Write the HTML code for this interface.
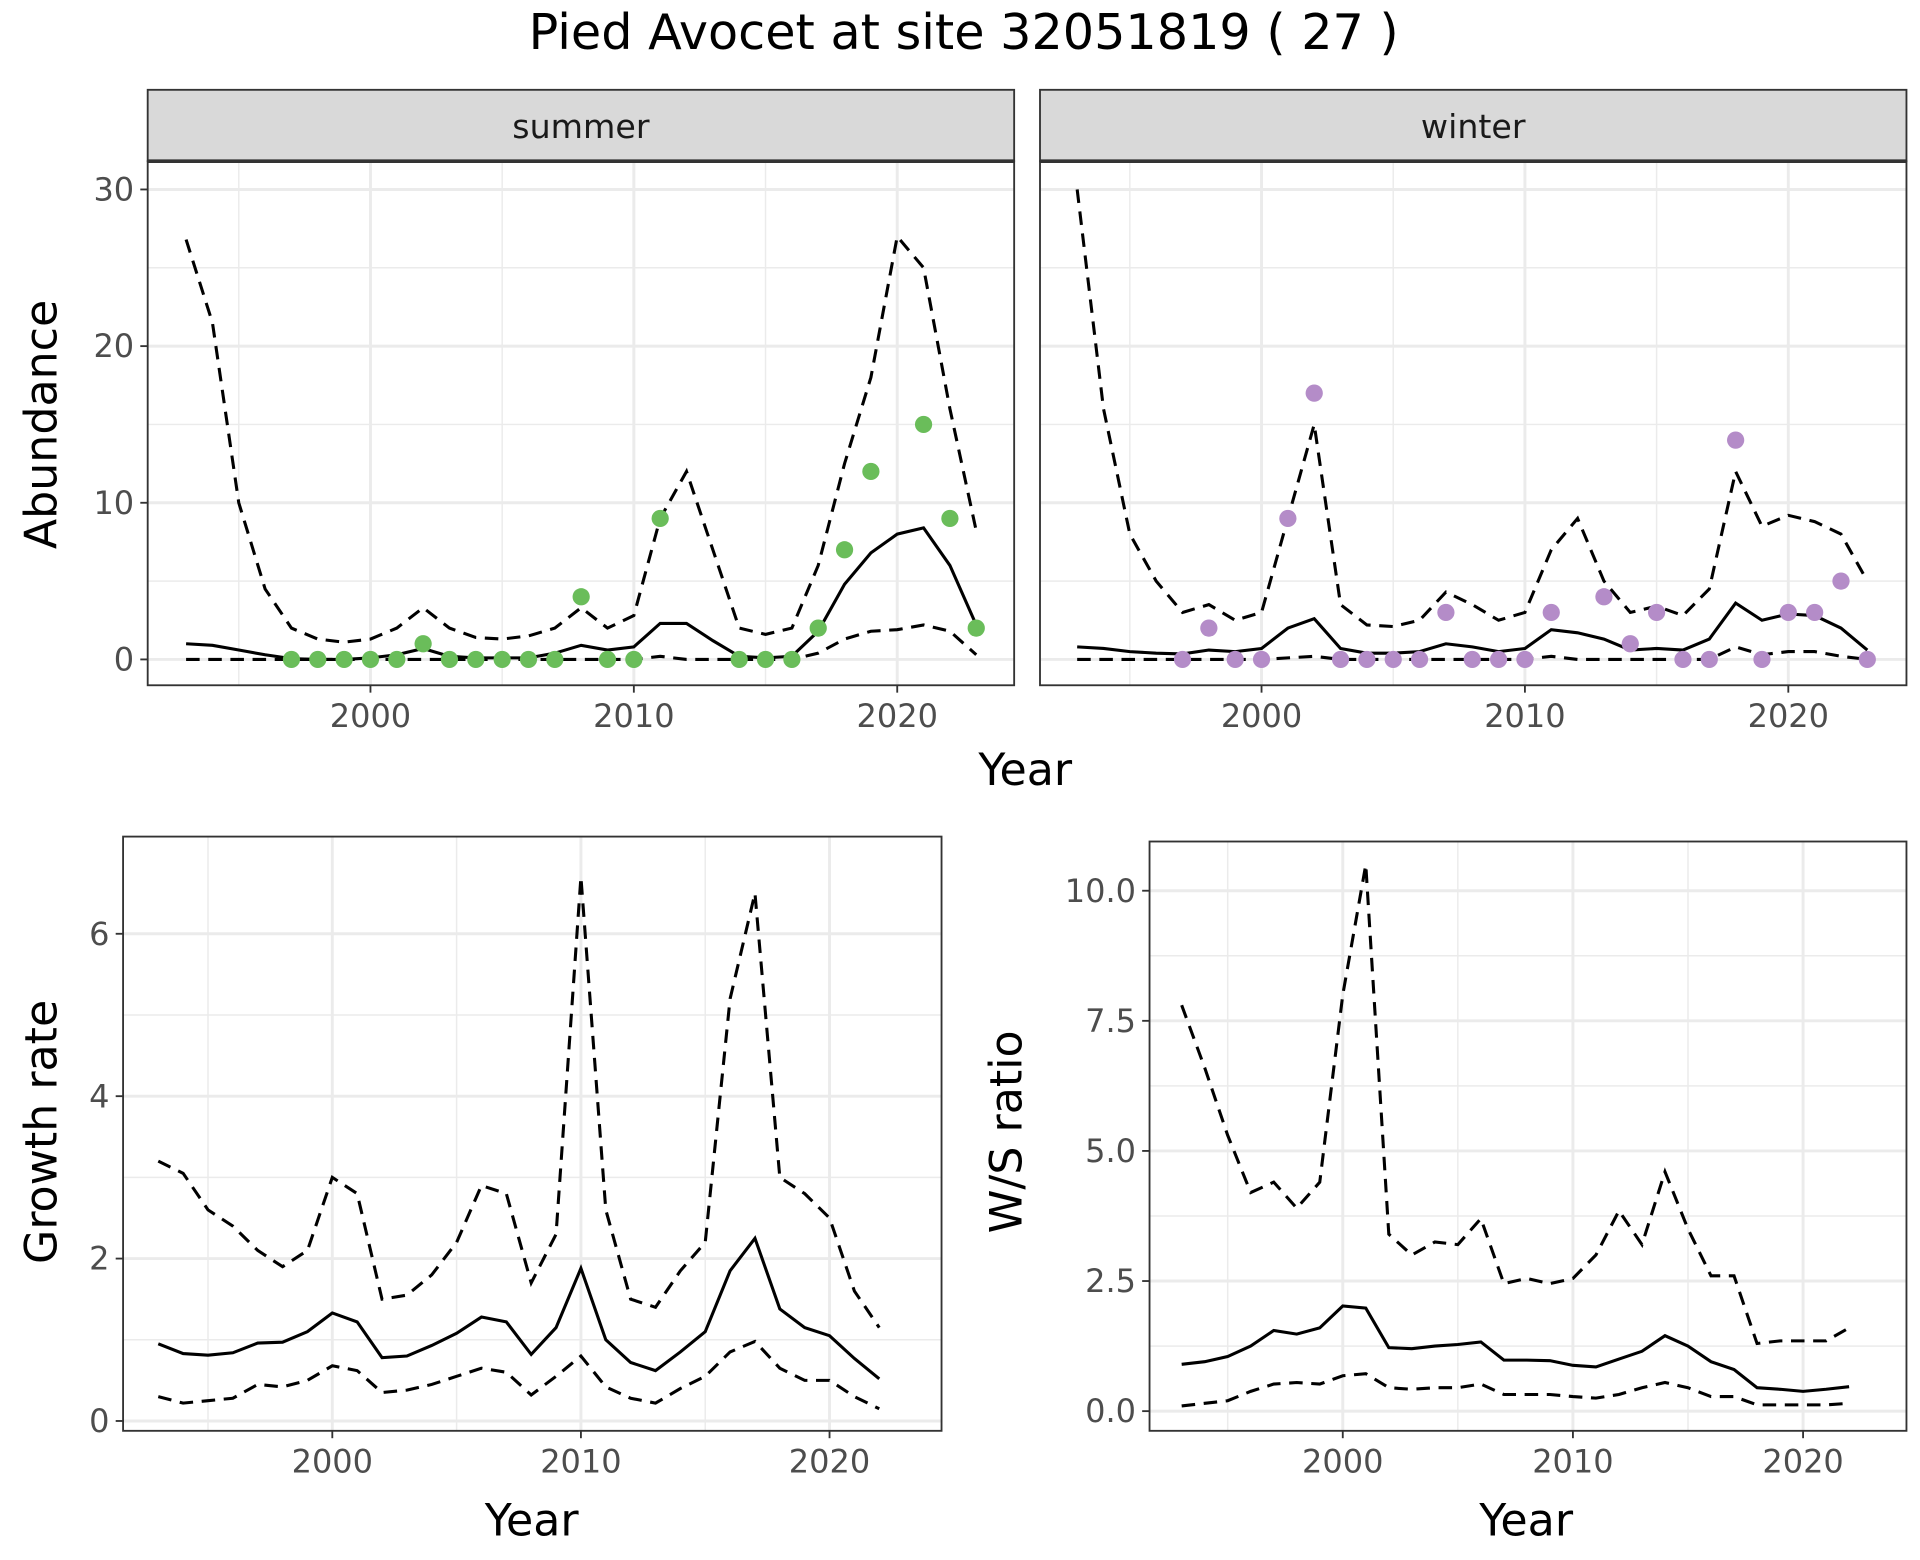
<!DOCTYPE html>
<html><head><meta charset="utf-8"><style>
html,body{margin:0;padding:0;background:#fff;}
svg{display:block;font-family:"DejaVu Sans","Liberation Sans",sans-serif;}
</style></head><body>
<svg id="fig" width="1920" height="1560" viewBox="0 0 1560 1268" preserveAspectRatio="none" xmlns="http://www.w3.org/2000/svg">
<rect width="1560" height="1268" fill="#fff"/>
<text x="783" y="40" font-size="40" text-anchor="middle" fill="#000">Pied Avocet at site 32051819 ( 27 )</text>
</svg>
<script>
const years = [1993,1994,1995,1996,1997,1998,1999,2000,2001,2002,2003,2004,2005,2006,2007,2008,2009,2010,2011,2012,2013,2014,2015,2016,2017,2018,2019,2020,2021,2022,2023];
const sumMean = [1.0,0.9,0.6,0.3,0.05,0,0,0.1,0.3,0.7,0.2,0.1,0.1,0.1,0.4,0.9,0.6,0.8,2.3,2.3,1.2,0.2,0.1,0.2,1.8,4.8,6.8,8.0,8.4,6.0,2.2];
const sumUpper = [26.8,21.5,10,4.5,2,1.3,1.1,1.3,2.0,3.3,2.0,1.4,1.3,1.5,2.0,3.3,2.0,2.8,9,12,7,2.0,1.6,2.0,6,12.5,18,27,25,16,8.2];
const sumLower = [0,0,0,0,0,0,0,0,0,0,0,0,0,0,0,0,0,0,0.2,0,0,0,0,0,0.4,1.3,1.8,1.9,2.2,1.8,0.3];
const sumPtYears = [1997,1998,1999,2000,2001,2002,2003,2004,2005,2006,2007,2008,2009,2010,2011,2014,2015,2016,2017,2018,2019,2021,2022,2023];
const sumPtVals = [0,0,0,0,0,1,0,0,0,0,0,4,0,0,9,0,0,0,2,7,12,15,9,2];
const winMean = [0.8,0.7,0.5,0.4,0.35,0.6,0.5,0.7,2.0,2.6,0.7,0.4,0.4,0.5,1.0,0.8,0.5,0.7,1.9,1.7,1.3,0.6,0.7,0.6,1.3,3.6,2.5,2.9,2.8,2.0,0.6];
const winUpper = [30,16,8,5,3,3.5,2.5,3,9,15,3.5,2.2,2.1,2.5,4.3,3.5,2.5,3,7,9,5,3,3.4,2.8,4.5,12,8.5,9.2,8.8,8,5];
const winLower = [0,0,0,0,0,0,0,0,0.1,0.2,0,0,0,0,0,0,0,0,0.2,0,0,0,0,0,0,0.8,0.3,0.5,0.5,0.2,0];
const winPtYears = [1997,1998,1999,2000,2001,2002,2003,2004,2005,2006,2007,2008,2009,2010,2011,2013,2014,2015,2016,2017,2018,2019,2020,2021,2022,2023];
const winPtVals = [0,2,0,0,9,17,0,0,0,0,3,0,0,0,3,4,1,3,0,0,14,0,3,3,5,0];
const years2 = years.slice(0,30);
const grMean = [0.95,0.83,0.81,0.84,0.96,0.97,1.1,1.33,1.22,0.78,0.8,0.93,1.08,1.28,1.22,0.82,1.15,1.88,1.0,0.72,0.62,0.85,1.1,1.85,2.25,1.38,1.15,1.05,0.77,0.52];
const grUpper = [3.2,3.05,2.6,2.4,2.1,1.9,2.1,3.0,2.8,1.5,1.55,1.8,2.2,2.9,2.8,1.7,2.3,6.7,2.6,1.5,1.4,1.85,2.2,5.2,6.5,3.0,2.8,2.5,1.6,1.15];
const grLower = [0.3,0.22,0.25,0.28,0.45,0.42,0.5,0.68,0.62,0.35,0.38,0.45,0.55,0.65,0.6,0.32,0.55,0.8,0.42,0.28,0.22,0.4,0.55,0.85,0.98,0.65,0.5,0.5,0.3,0.15];
const wsMean = [0.9,0.95,1.05,1.25,1.55,1.48,1.6,2.02,1.98,1.22,1.2,1.25,1.28,1.33,0.98,0.98,0.97,0.88,0.85,1.0,1.15,1.45,1.25,0.95,0.8,0.45,0.42,0.38,0.42,0.47];
const wsUpper = [7.8,6.6,5.3,4.2,4.4,3.9,4.4,8.0,10.5,3.4,3.0,3.25,3.2,3.7,2.45,2.55,2.45,2.55,3.0,3.85,3.2,4.6,3.5,2.6,2.6,1.3,1.35,1.35,1.35,1.6];
const wsLower = [0.1,0.15,0.2,0.38,0.52,0.55,0.52,0.68,0.72,0.45,0.42,0.45,0.45,0.52,0.32,0.32,0.32,0.28,0.25,0.32,0.45,0.55,0.45,0.28,0.28,0.12,0.12,0.12,0.12,0.15];
const xTicks = [2000,2010,2020];
const xMinor = [1995,2005,2015];
const abTicks = [0,10,20,30];
const grTicks = [0,2,4,6];
const wsTicks = [0,2.5,5,7.5,10];

const svg = document.getElementById('fig');
const NS = 'http://www.w3.org/2000/svg';
function mk(tag, attrs, parent){
  const e = document.createElementNS(NS, tag);
  for (const k in attrs) e.setAttribute(k, attrs[k]);
  (parent||svg).appendChild(e); return e;
}
function lin(d0,d1,r0,r1){return v=>r0+(v-d0)*(r1-r0)/(d1-d0);}

function panel(o){
  const g = mk('g',{});
  
  
  const {x0,x1,y0,y1,sx,sy} = o;
  o.xMinor.forEach(v=>{const l=mk('line',{x1:sx(v),x2:sx(v),y1:y0,y2:y1,stroke:'#ebebeb','stroke-width':1.2},g);
     });
  o.yMinor.forEach(v=>{const l=mk('line',{x1:x0,x2:x1,y1:sy(v),y2:sy(v),stroke:'#ebebeb','stroke-width':1.2},g);
     });
  xTicks.forEach(v=>{const l=mk('line',{x1:sx(v),x2:sx(v),y1:y0,y2:y1,stroke:'#ebebeb','stroke-width':2.4},g);
     });
  o.yTicks.forEach(v=>{const l=mk('line',{x1:x0,x2:x1,y1:sy(v),y2:sy(v),stroke:'#ebebeb','stroke-width':2.4},g);
     });
  const lines = [[o.upper,'11,7'],[o.lower,'11,7'],[o.mean,null]];
  lines.forEach(([arr,dash],i)=>{
    const pts = arr.map((v,j)=>sx(o.yrs[j])+','+sy(v)).join(' ');
    const p = mk('polyline',{points:pts,fill:'none',stroke:'#000','stroke-width':2.5},g);
    if(dash) p.setAttribute('stroke-dasharray',dash);
    
    
  });
  if(o.ptY){
    o.ptY.forEach((yr,j)=>{
      const c = mk('circle',{cx:sx(yr),cy:sy(o.ptV[j]),r:7,fill:o.color},g);
      
      
    });
  }
  const b = mk('rect',{x:x0,y:y0,width:x1-x0,height:y1-y0,fill:'none',stroke:'#333','stroke-width':1.5},g);
   
  xTicks.forEach(v=>{
    mk('line',{x1:sx(v),x2:sx(v),y1:y1,y2:y1+6,stroke:'#333','stroke-width':1.5},g);
    const t = mk('text',{x:sx(v),y:y1+34,'font-size':26,'text-anchor':'middle',fill:'#4d4d4d'},g);
    t.textContent = v;
     
  });
  if(o.showY){
    o.yTicks.forEach(v=>{
      mk('line',{x1:x0-6,x2:x0,y1:sy(v),y2:sy(v),stroke:'#333','stroke-width':1.5},g);
      const t = mk('text',{x:x0-11,y:sy(v)+9,'font-size':26,'text-anchor':'end',fill:'#4d4d4d'},g);
      t.textContent = o.fmt ? o.fmt(v) : v;
       
    });
  }
  if(o.strip){
    const s = mk('rect',{x:x0,y:73,width:x1-x0,height:y0-73,fill:'#d9d9d9',stroke:'#333','stroke-width':1.5},g);
     
    mk('line',{x1:x0,x2:x1,y1:y0,y2:y0,stroke:'#333','stroke-width':3},g);
    const t = mk('text',{x:(x0+x1)/2,y:112,'font-size':27,'text-anchor':'middle',fill:'#1a1a1a'},g);
    t.textContent = o.strip;
     
  }
}
function label(txt,x,y,rot,name){
  const t = mk('text',{x:x,y:y,'font-size':36,'text-anchor':'middle',fill:'#000'});
  if(rot) t.setAttribute('transform','rotate(-90 '+x+' '+y+')');
  t.textContent = txt;
  
  
}
const syAb = lin(0,30,536,154);
panel({name:'summer-panel',x0:120,x1:824,y0:131,y1:557,sx:lin(2000,2020,301,729),sy:syAb,
  xMinor:xMinor,yMinor:[5,15,25],yTicks:abTicks,yrs:years,mean:sumMean,upper:sumUpper,lower:sumLower,
  ptY:sumPtYears,ptV:sumPtVals,color:'#6abd5a',showY:true,strip:'summer'});
panel({name:'winter-panel',x0:845,x1:1549,y0:131,y1:557,sx:lin(2000,2020,1025,1453),sy:syAb,
  xMinor:xMinor,yMinor:[5,15,25],yTicks:abTicks,yrs:years,mean:winMean,upper:winUpper,lower:winLower,
  ptY:winPtYears,ptV:winPtVals,color:'#b48cc8',showY:false,strip:'winter'});
label('Year',833,638,false,'x-axis-title-top');
label('Abundance',46,345,true,'y-axis-title-abundance');
panel({name:'growth-rate-panel',x0:100,x1:765,y0:680,y1:1163,sx:lin(2000,2020,270,674),sy:lin(0,6,1155,759),
  xMinor:xMinor,yMinor:[1,3,5],yTicks:grTicks,yrs:years2,mean:grMean,upper:grUpper,lower:grLower,showY:true});
label('Year',432,1248,false,'x-axis-title-growth');
label('Growth rate',46,920,true,'y-axis-title-growth');
panel({name:'ws-ratio-panel',x0:934,x1:1549,y0:684,y1:1163,sx:lin(2000,2020,1091,1465),sy:lin(0,10,1147,724),
  xMinor:xMinor,yMinor:[1.25,3.75,6.25,8.75],yTicks:wsTicks,yrs:years2,mean:wsMean,upper:wsUpper,lower:wsLower,showY:true,
  fmt:v=>v.toFixed(1)});
label('Year',1240,1248,false,'x-axis-title-ws');
label('W/S ratio',830,920,true,'y-axis-title-ws');
</script>
</body></html>
